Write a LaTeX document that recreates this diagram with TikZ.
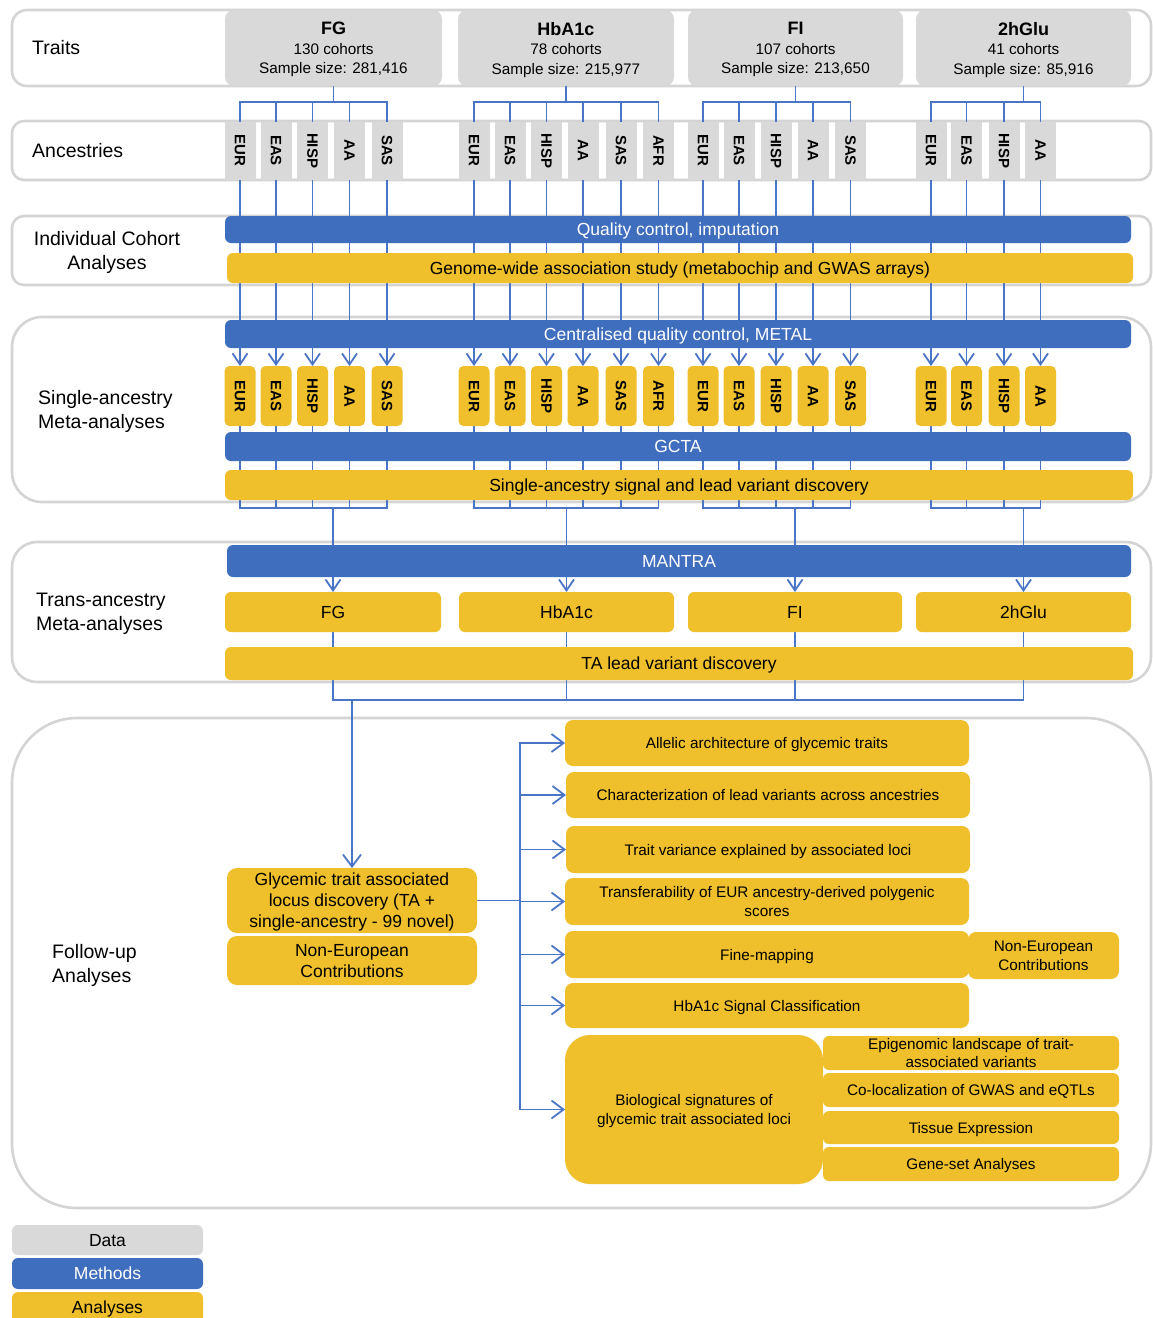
\documentclass[tikz,border=0pt]{standalone}
\usepackage{fontspec}
\setmainfont{Liberation Sans}
\usepackage{graphicx}
\usetikzlibrary{arrows.meta}
\definecolor{mblue}{HTML}{3F6EBE}
\definecolor{mgold}{HTML}{EFBF2C}
\definecolor{dgray}{HTML}{D9D9D9}
\definecolor{frmgray}{HTML}{D4D4D4}
\definecolor{lblue}{HTML}{4A74C6}
\pgfdeclarelayer{bg}
\pgfdeclarelayer{mid}
\pgfsetlayers{bg,mid,main}
\newcommand\FS[2]{\fontsize{#1}{#2}\selectfont}
\newcommand\rbox[7]{\node[#1, minimum width={(#5-#3)*1pt}, minimum height={(#6-#4)*1pt}] (#2) at ({(#3+#5)/2},{(#4+#6)/2}) {#7};}
\newcommand\colgroup[2]{\foreach \x/\l [count=\i] in {#2} {
  \node[gcol] (g#1\i) at (\x,150.5) {\rotatebox{-90}{\l}};
  \node[scol] (s#1\i) at (\x,396) {\rotatebox{-90}{\l}};}}
\newcommand\colconn[2]{%
  \draw[conn] (t#1.south) -- (t#1.south |- bus1);
  \draw[conn] (g#11.north |- bus1) -- (g#1#2.north |- bus1);
  \foreach \i in {1,...,#2}{
    \draw[conn] (g#1\i.north |- bus1) -- (g#1\i.north);
    \draw[conn] (g#1\i.south) -- (g#1\i.south |- cqc.north);
    \draw[arrS] (s#1\i.north |- cqc.south) -- (s#1\i.north);
    \draw[conn] (s#1\i.south) -- (s#1\i.south |- bus3);
  }
  \draw[conn] (s#11.south |- bus3) -- (s#1#2.south |- bus3);
  \draw[conn] (r#1.north |- bus3) -- (r#1.north |- mantra.north);
  \draw[arrS] (r#1.north |- mantra.south) -- (r#1.north);
  \draw[conn] (r#1.south) -- (r#1.south |- bus4);
}
\begin{document}
\begin{tikzpicture}[x=1pt,y=-1pt,
  conn/.style={draw=lblue, line width=1.8pt, line cap=rect},
  arrS/.style={draw=lblue, line width=1.8pt, -{Straight Barb[length=11pt,width=15pt]}},
  arrF/.style={draw=lblue, line width=1.8pt, -{Straight Barb[length=12pt,width=18pt]}},
  frm/.style={draw=frmgray, line width=2.6pt, fill=white, inner sep=0pt, outer sep=0pt},
  base/.style={inner sep=0pt, outer sep=0pt, align=center, text depth=0pt},
  dbox/.style={base, fill=dgray, rounded corners=9pt, font=\FS{15.3}{19.5}},
  gcol/.style={inner sep=0pt, outer sep=0pt, fill=dgray, minimum width=31pt, minimum height=58pt, font=\bfseries\FS{15}{18}},
  scol/.style={inner sep=0pt, outer sep=0pt, fill=mgold, rounded corners=5pt, minimum width=31pt, minimum height=60pt, font=\bfseries\FS{15}{18}},
  mbar/.style={base, fill=mblue, text=white, rounded corners=6pt, font=\FS{17.5}{21}},
  abar/.style={base, fill=mgold, rounded corners=6pt, font=\FS{17.5}{21}},
  fbox/.style={base, fill=mgold, rounded corners=8pt, font=\FS{15.3}{18.5}},
  gbox/.style={base, fill=mgold, rounded corners=10pt, font=\FS{17.5}{21}},
  lab/.style={inner sep=0pt, font=\FS{19.5}{24}, align=left, anchor=west},
]
\useasboundingbox (0,0) rectangle (1153,1318);

% ---------- row frames ----------
\begin{pgfonlayer}{bg}
\rbox{frm, rounded corners=15pt}{frT}{12}{10}{1151}{86}{}
\rbox{frm, rounded corners=12pt}{frA}{12}{121}{1151}{180}{}
\rbox{frm, rounded corners=12pt}{frI}{12}{216}{1151}{285}{}
\rbox{frm, rounded corners=30pt}{frS}{12}{317}{1151}{502}{}
\rbox{frm, rounded corners=25pt}{frR}{12}{542}{1151}{682}{}
\rbox{frm, rounded corners=65pt}{frF}{12}{718}{1151}{1208}{}
\end{pgfonlayer}

% ---------- row labels ----------
\node[lab] (lT) at (32,48) {Traits};
\node[lab] (lA) at (32,151) {Ancestries};
\node[lab, align=center, anchor=center] (lI) at (107,252) {Individual Cohort\\Analyses};
\node[lab] (lS) at (38,411) {Single-ancestry\\Meta-analyses};
\node[lab] (lR) at (36,614) {Trans-ancestry\\Meta-analyses};
\node[lab] (lF) at (52,965) {Follow-up\\Analyses};

% ---------- traits ----------
\rbox{dbox}{tA}{225}{10}{442}{86}{{\bfseries\FS{18}{22}FG}\\130 cohorts\\Sample size: 281,416}
\rbox{dbox}{tB}{458}{10}{674}{86}{{\bfseries\FS{18}{22}HbA1c}\\78 cohorts\\Sample size: 215,977}
\rbox{dbox}{tC}{688}{10}{903}{86}{{\bfseries\FS{18}{22}FI}\\107 cohorts\\Sample size: 213,650}
\rbox{dbox}{tD}{916}{10}{1131}{86}{{\bfseries\FS{18}{22}2hGlu}\\41 cohorts\\Sample size: 85,916}

% ---------- ancestry columns ----------
\colgroup{A}{240/EUR,276/EAS,312.5/HISP,349.5/AA,387/SAS}
\colgroup{B}{474/EUR,510/EAS,546.5/HISP,583/AA,621/SAS,658.5/AFR}
\colgroup{C}{703/EUR,739/EAS,776/HISP,813/AA,850.5/SAS}
\colgroup{D}{931/EUR,966.5/EAS,1004/HISP,1040.5/AA}

% ---------- bars ----------
\rbox{mbar}{qc}{225}{216}{1131}{243}{Quality control, imputation}
\rbox{abar}{gwas}{227}{253}{1133}{283}{Genome-wide association study (metabochip and GWAS arrays)}
\rbox{mbar}{cqc}{225}{320}{1131}{348}{Centralised quality control, METAL}
\rbox{mbar}{gcta}{225}{432}{1131}{461}{GCTA}
\rbox{abar}{sig}{225}{470}{1133}{500}{Single-ancestry signal and lead variant discovery}
\rbox{mbar}{mantra}{227}{545}{1131}{577}{MANTRA}
\rbox{abar}{rA}{225}{592}{441}{632}{FG}
\rbox{abar}{rB}{459}{592}{674}{632}{HbA1c}
\rbox{abar}{rC}{688}{592}{902}{632}{FI}
\rbox{abar}{rD}{916}{592}{1131}{632}{2hGlu}
\rbox{abar}{ta}{225}{647}{1133}{680}{TA lead variant discovery}

% ---------- follow-up ----------
\rbox{gbox}{glyc}{227}{868}{477}{933}{Glycemic trait associated\\locus discovery (TA +\\single-ancestry - 99 novel)}
\rbox{gbox}{neu}{227}{936}{477}{985}{Non-European\\Contributions}
\rbox{fbox}{alle}{565}{720}{969}{766}{Allelic architecture of glycemic traits}
\rbox{fbox}{char}{566}{772}{970}{818}{Characterization of lead variants across ancestries}
\rbox{fbox}{vari}{566}{826}{970}{873}{Trait variance explained by associated loci}
\rbox{fbox}{tran}{565}{878}{969}{925}{Transferability of EUR ancestry-derived polygenic\\scores}
\rbox{fbox}{fine}{565}{931}{969}{978}{Fine-mapping}
\rbox{fbox}{neu2}{968}{932}{1119}{979}{Non-European\\Contributions}
\rbox{fbox}{hbs}{565}{983}{969}{1028}{HbA1c Signal Classification}
\rbox{fbox, rounded corners=25pt}{bio}{565}{1035}{823}{1184}{Biological signatures of\\glycemic trait associated loci}
\rbox{fbox, rounded corners=6pt}{epi}{823}{1036}{1119}{1070}{Epigenomic landscape of trait-\\associated variants}
\rbox{fbox, rounded corners=6pt}{colo}{823}{1073}{1119}{1107}{Co-localization of GWAS and eQTLs}
\rbox{fbox, rounded corners=6pt}{tiss}{823}{1111}{1119}{1144}{Tissue Expression}
\rbox{fbox, rounded corners=6pt}{gene}{823}{1147}{1119}{1181}{Gene-set Analyses}

% ---------- legend ----------
\rbox{dbox, font=\FS{17.5}{21}, rounded corners=6pt}{legD}{12}{1225}{203}{1255}{Data}
\rbox{mbar}{legM}{12}{1258}{203}{1289}{Methods}
\begin{scope}
\clip (0,1200) rectangle (1153,1318);
\rbox{abar}{legA}{12}{1292}{203}{1328}{\raisebox{5pt}{Analyses}}
\end{scope}

% ---------- bus levels ----------
\coordinate (bus1) at (0,102);
\coordinate (bus3) at (0,508);
\coordinate (bus4) at (0,700);
\coordinate (trunk) at (520,0);

% ---------- connectors ----------
\begin{pgfonlayer}{mid}
\colconn{A}{5}
\colconn{B}{6}
\colconn{C}{5}
\colconn{D}{4}
\draw[conn] (rA.south |- bus4) -- (rD.south |- bus4);
\draw[arrF] (glyc.north |- bus4) -- (glyc.north);
\draw[conn] (glyc.east) -- (glyc.east -| trunk);
\draw[conn] (alle.west -| trunk) -- (bio.west -| trunk);
\foreach \b in {alle,char,vari,tran,fine,hbs,bio}{
  \draw[arrF] (\b.west -| trunk) -- (\b.west);
}
\end{pgfonlayer}
\end{tikzpicture}
\end{document}
